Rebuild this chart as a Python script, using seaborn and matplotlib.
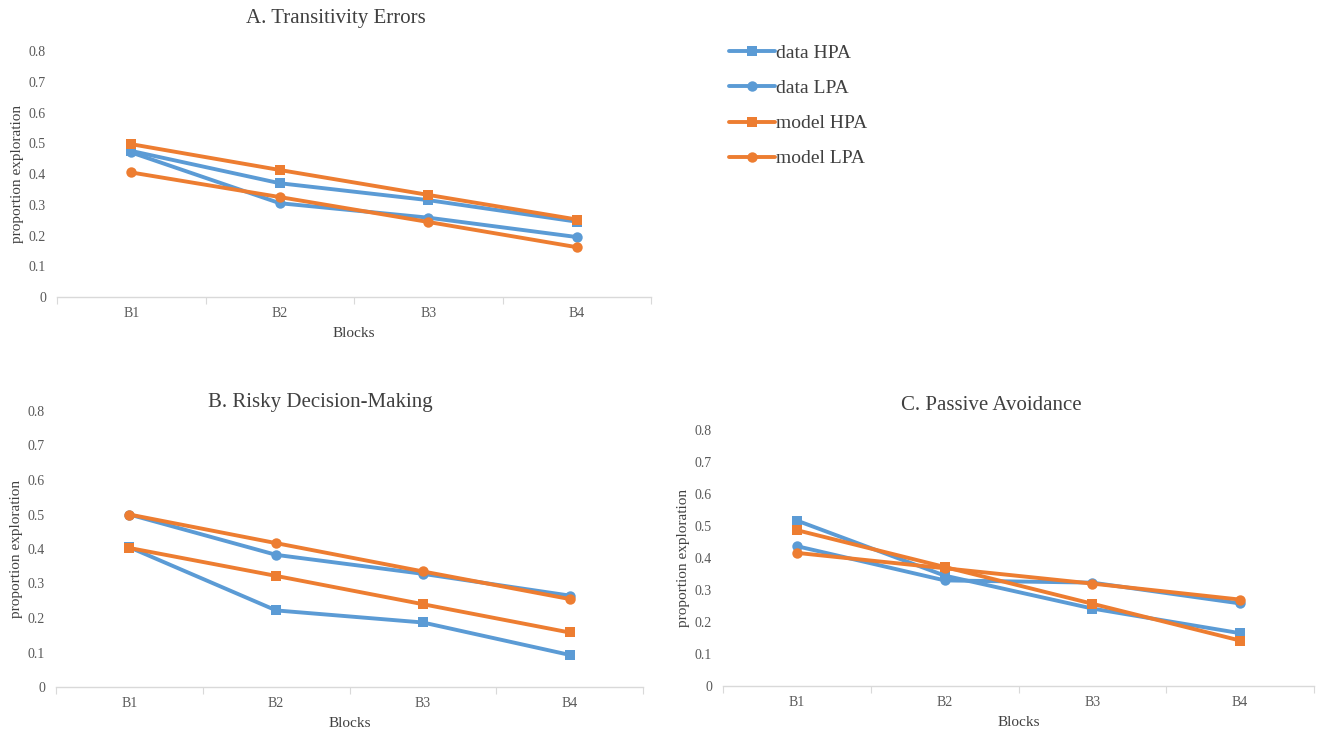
import matplotlib
matplotlib.use("Agg")
import matplotlib.pyplot as plt
import seaborn as sns
import pandas as pd

blocks = ["B1", "B2", "B3", "B4"]
series = ["data HPA", "data LPA", "model HPA", "model LPA"]

# A. Transitivity Errors
a_data_hpa = [0.475, 0.370, 0.315, 0.245]
a_data_lpa = [0.470, 0.305, 0.258, 0.195]
a_model_hpa = [0.497, 0.413, 0.332, 0.252]
a_model_lpa = [0.405, 0.325, 0.244, 0.162]

# B. Risky Decision-Making
b_data_hpa = [0.405, 0.222, 0.187, 0.093]
b_data_lpa = [0.500, 0.383, 0.328, 0.265]
b_model_hpa = [0.403, 0.322, 0.240, 0.158]
b_model_lpa = [0.500, 0.417, 0.335, 0.255]

# C. Passive Avoidance
c_data_hpa = [0.517, 0.345, 0.242, 0.165]
c_data_lpa = [0.437, 0.330, 0.323, 0.258]
c_model_hpa = [0.487, 0.372, 0.257, 0.142]
c_model_lpa = [0.416, 0.368, 0.320, 0.270]

titles = ["A. Transitivity Errors", "B. Risky Decision-Making", "C. Passive Avoidance"]
yticks = [0, 0.1, 0.2, 0.3, 0.4, 0.5, 0.6, 0.7, 0.8]

BLUE = "#5B9BD5"
ORANGE = "#ED7D31"
palette = {"data HPA": BLUE, "data LPA": BLUE, "model HPA": ORANGE, "model LPA": ORANGE}
markers = {"data HPA": "s", "data LPA": "o", "model HPA": "s", "model LPA": "o"}


def make_frame(vals):
    rows = []
    for name, v in zip(series, vals):
        for i, y in enumerate(v):
            rows.append({"pos": i, "block": blocks[i], "series": name, "value": y})
    return pd.DataFrame(rows)


frames = [
    make_frame([a_data_hpa, a_data_lpa, a_model_hpa, a_model_lpa]),
    make_frame([b_data_hpa, b_data_lpa, b_model_hpa, b_model_lpa]),
    make_frame([c_data_hpa, c_data_lpa, c_model_hpa, c_model_lpa]),
]

sns.set_style("white")
plt.rcParams["font.family"] = ["Liberation Serif", "DejaVu Serif"]

fig = plt.figure(figsize=(13.2, 7.32), dpi=100)
W, H = 1320.0, 732.0
# (left, right, y of zero, y of 0.8) in pixels
boxes = [(57, 651, 297, 51), (56, 643, 687, 411), (723, 1314, 686, 430)]
title_pos = [(336, 18), (320, 403), (991, 405)]

axes = []
for k, (l, r, y0, y8) in enumerate(boxes):
    ax = fig.add_axes([l / W, 1 - y0 / H, (r - l) / W, (y0 - y8) / H])
    sns.lineplot(data=frames[k], x="pos", y="value", hue="series", style="series",
                 palette=palette, markers=markers, dashes=False, hue_order=series,
                 style_order=series, linewidth=2.8, markersize=7.5,
                 markeredgewidth=0, ax=ax, legend=(k == 0))
    ax.set_xlim(-0.5, 3.5)
    ax.set_ylim(0, 0.8)
    ax.set_yticks(yticks)
    ax.set_yticklabels([("%g" % t) for t in yticks], fontsize=10, color="#595959")
    ax.set_xticks([0.5, 1.5, 2.5, 3.5, -0.5])
    ax.set_xticklabels([])
    ax.set_xticks(range(4), minor=True)
    ax.set_xticklabels(blocks, minor=True, fontsize=10, color="#595959")
    ax.tick_params(axis="x", which="major", length=5, width=0.8, color="#D9D9D9",
                   direction="out", bottom=True)
    ax.tick_params(axis="x", which="minor", length=0, pad=7)
    ax.tick_params(axis="y", length=0, pad=8)
    for s in ["top", "right", "left"]:
        ax.spines[s].set_visible(False)
    ax.spines["bottom"].set_color("#D9D9D9")
    ax.spines["bottom"].set_linewidth(1)
    ax.set_xlabel("Blocks", fontsize=11, color="#404040", labelpad=5)
    ax.set_ylabel("proportion exploration", fontsize=11, color="#404040", labelpad=3)
    axes.append(ax)
    tx, ty = title_pos[k]
    fig.text(tx / W, 1 - ty / H, titles[k],
             ha="center", va="center", fontsize=15, color="#404040")

handles, labels = axes[0].get_legend_handles_labels()
axes[0].get_legend().remove()
fig.legend(handles, labels, loc="upper left", bbox_to_anchor=(711 / W, 1 - 27 / H),
           frameon=False, fontsize=14, handlelength=2.4, handletextpad=0.05,
           labelspacing=0.9, labelcolor="#404040")

fig.savefig("out.png", dpi=100)
